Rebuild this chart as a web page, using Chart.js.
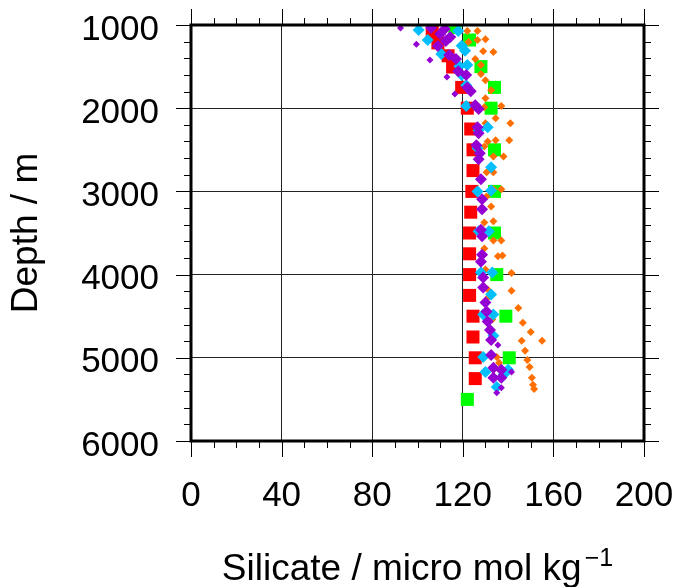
<!DOCTYPE html>
<html>
<head>
<meta charset="utf-8">
<script src="https://cdn.jsdelivr.net/npm/chart.js@4.4.1/dist/chart.umd.min.js"></script>
<style>
  html, body { margin: 0; padding: 0; background: #fff; }
  #wrap { width: 677px; height: 587px; }
</style>
</head>
<body>
<div id="wrap"><canvas id="chart" width="677" height="587"></canvas></div>
<script>
// silicate (micro mol/kg) against depth (m), one pair of arrays per series
const redSi    = [106.5, 109, 113.5, 115.5, 119.5, 122, 123.5, 124.5, 124.5, 124, 123.5, 123, 123, 123, 123, 124.5, 124.5, 125.5, 125.5];
const redDepth = [1085, 1215, 1370, 1505, 1750, 2000, 2250, 2500, 2750, 3000, 3250, 3500, 3750, 4000, 4250, 4500, 4750, 5000, 5250];

const greenSi    = [116.5, 123, 128, 134, 132.5, 134, 134, 134, 135, 139, 140.5, 122];
const greenDepth = [1030, 1180, 1500, 1750, 2000, 2500, 3000, 3500, 4000, 4500, 5000, 5500];

const cyanSi    = [100.5, 104.5, 110.5, 118, 119.5, 121, 118.5, 122, 119.5, 121.5, 121.5, 131, 127, 126.5, 132.5, 132.5, 126.5, 127, 131.5, 128, 133, 132.5, 129, 133.5, 133.5, 129, 130, 140, 138, 135];
const cyanDepth = [1060, 1180, 1350, 1072, 1250, 1310, 1495, 1480, 1600, 1725, 1975, 2230, 2265, 2480, 2710, 2990, 3000, 3480, 3480, 3975, 3975, 4240, 4480, 4480, 4735, 4990, 5170, 5145, 5205, 5350];

const purpleSi    = [110, 112.5, 109, 114.5, 106, 112, 114, 117, 118, 121.5, 122, 123.5, 125.5, 127, 126.5, 127, 126, 127.5, 127, 128, 128.5, 128.5, 128, 128.5, 128.5, 128, 129, 129, 130, 130.5, 131, 132, 132.5, 132.5, 133.5, 137, 133.5, 137];
const purpleDepth = [1108, 1193, 1253, 1145, 1036, 1048, 1360, 1410, 1555, 1600, 1750, 1795, 1965, 2010, 2230, 2300, 2445, 2540, 2615, 2855, 3095, 3215, 3460, 3540, 3760, 3845, 4035, 4155, 4335, 4445, 4565, 4665, 4785, 4965, 5120, 5145, 5240, 5240];

const violetSi    = [92.5, 99.5, 105.5, 113, 116.5, 135.5, 141.5, 137, 135];
const violetDepth = [1036, 1230, 1420, 1625, 1830, 4845, 5170, 5360, 5420];

const orangeSi    = [122, 126.5, 122.5, 126.5, 130, 129, 133.5, 125.5, 128, 128, 130, 132.5, 130, 129.5, 137, 134.5, 141, 130, 134.5, 140.5, 131, 129.5, 133.5, 138, 130.5, 133.5, 133.5, 137, 130.5, 132.5, 129.5, 133.5, 133.5, 137, 129.5, 135.5, 137.5, 130, 141.5, 141.5, 131, 131.5, 144.5, 133, 146.5, 150, 146, 155, 147.5, 148.5, 149.5, 150.5, 151, 151.5, 135, 136, 133.5];
const orangeDepth = [1072, 1072, 1205, 1180, 1170, 1315, 1325, 1410, 1480, 1590, 1665, 1785, 1880, 1990, 1975, 2120, 2180, 2180, 2385, 2385, 2400, 2460, 2580, 2580, 2770, 2770, 2975, 2975, 3060, 3180, 3375, 3360, 3590, 3590, 3685, 3780, 3770, 3940, 3980, 4195, 4180, 4265, 4400, 4540, 4580, 4690, 4795, 4795, 4915, 5025, 5110, 5240, 5325, 5375, 4990, 5060, 5145];

const xTicks = [0, 40, 80, 120, 160, 200];
const yTicks = [1000, 2000, 3000, 4000, 5000, 6000];

const xTitle = 'Silicate / micro mol kg';
const xTitleSup = '\u22121';

const pts = (xs, ys) => xs.map((v, i) => ({ x: v, y: ys[i] }));
const FONT = 'Liberation Sans, Arial, Helvetica, sans-serif';

// keep the plot box where the layout padding puts it
const noPad = s => { s.paddingTop = 0; s.paddingBottom = 0; s.paddingLeft = 0; s.paddingRight = 0; };

// frame, outward ticks on all four sides, minor ticks, x title with superscript
const framePlugin = {
    id: 'frame',
    afterDraw(chart) {
        const { ctx, chartArea: a, scales: { x, y } } = chart;
        ctx.save();
        ctx.strokeStyle = '#000';
        ctx.lineWidth = 1;
        ctx.beginPath();
        for (let v = 0; v <= 200; v += 10) {
            const px = Math.round(x.getPixelForValue(v)) + 0.5;
            const len = v % 40 === 0 ? 16 : 7;
            ctx.moveTo(px, a.top); ctx.lineTo(px, a.top - len);
            ctx.moveTo(px, a.bottom); ctx.lineTo(px, a.bottom + len);
        }
        for (let v = 1000; v <= 6000; v += 200) {
            const py = Math.round(y.getPixelForValue(v)) + 0.5;
            const len = v % 1000 === 0 ? 15 : 7;
            ctx.moveTo(a.left, py); ctx.lineTo(a.left - len, py);
            ctx.moveTo(a.right, py); ctx.lineTo(a.right + len, py);
        }
        ctx.stroke();
        ctx.lineWidth = 3;
        ctx.strokeRect(a.left, a.top, a.right - a.left, a.bottom - a.top);

        // axis title: main text plus raised exponent
        ctx.fillStyle = '#000';
        ctx.textBaseline = 'alphabetic';
        ctx.textAlign = 'left';
        ctx.font = '37px ' + FONT;
        const w1 = ctx.measureText(xTitle).width;
        ctx.font = '25px ' + FONT;
        const w2 = ctx.measureText(xTitleSup).width;
        const x0 = (a.left + a.right) / 2 - (w1 + 3 + w2) / 2;
        const base = 580;
        ctx.font = '37px ' + FONT;
        ctx.fillText(xTitle, x0, base);
        ctx.font = '25px ' + FONT;
        ctx.fillText(xTitleSup, x0 + w1 + 3, base - 14);
        ctx.restore();
    }
};

new Chart(document.getElementById('chart'), {
    type: 'scatter',
    data: {
        datasets: [
            { label: 'violet', data: pts(violetSi, violetDepth), pointStyle: 'rectRot', pointRadius: 3.5, backgroundColor: '#9400D3', borderWidth: 0 },
            { label: 'purple', data: pts(purpleSi, purpleDepth), pointStyle: 'rectRot', pointRadius: 6, backgroundColor: '#9400D3', borderWidth: 0 },
            { label: 'cyan', data: pts(cyanSi, cyanDepth), pointStyle: 'rectRot', pointRadius: 6, backgroundColor: '#00BFFF', borderWidth: 0 },
            { label: 'orange', data: pts(orangeSi, orangeDepth), pointStyle: 'rectRot', pointRadius: 4, backgroundColor: '#FF6F00', borderWidth: 0 },
            { label: 'green', data: pts(greenSi, greenDepth), pointStyle: 'rect', pointRadius: 9.2, backgroundColor: '#00FF00', borderWidth: 0 },
            { label: 'red', data: pts(redSi, redDepth), pointStyle: 'rect', pointRadius: 9.2, backgroundColor: '#FF0000', borderWidth: 0 }
        ]
    },
    options: {
        responsive: false,
        animation: false,
        layout: { padding: { top: 25, right: 33, left: 0, bottom: 0 } },
        plugins: { legend: { display: false }, tooltip: { enabled: false } },
        scales: {
            x: {
                type: 'linear',
                min: 0,
                max: 200,
                afterBuildTicks: s => { s.ticks = xTicks.map(v => ({ value: v })); },
                afterFit: s => { s.height = 146; noPad(s); },
                ticks: { color: '#000', font: { family: FONT, size: 35 }, padding: 34, maxRotation: 0, callback: v => String(v) },
                grid: { color: '#222', lineWidth: 1, drawTicks: false },
                border: { display: false },
                title: { display: false }
            },
            y: {
                type: 'linear',
                reverse: true,
                min: 1000,
                max: 6000,
                afterBuildTicks: s => { s.ticks = yTicks.map(v => ({ value: v })); },
                afterFit: s => { s.width = 191; noPad(s); },
                ticks: { color: '#000', font: { family: FONT, size: 35 }, padding: 32, labelOffset: 5, callback: v => String(v) },
                grid: { color: '#222', lineWidth: 1, drawTicks: false },
                border: { display: false },
                title: { display: true, text: 'Depth / m', color: '#000', font: { family: FONT, size: 37 }, padding: { top: 5, bottom: 0 } }
            }
        }
    },
    plugins: [framePlugin]
});
</script>
</body>
</html>
